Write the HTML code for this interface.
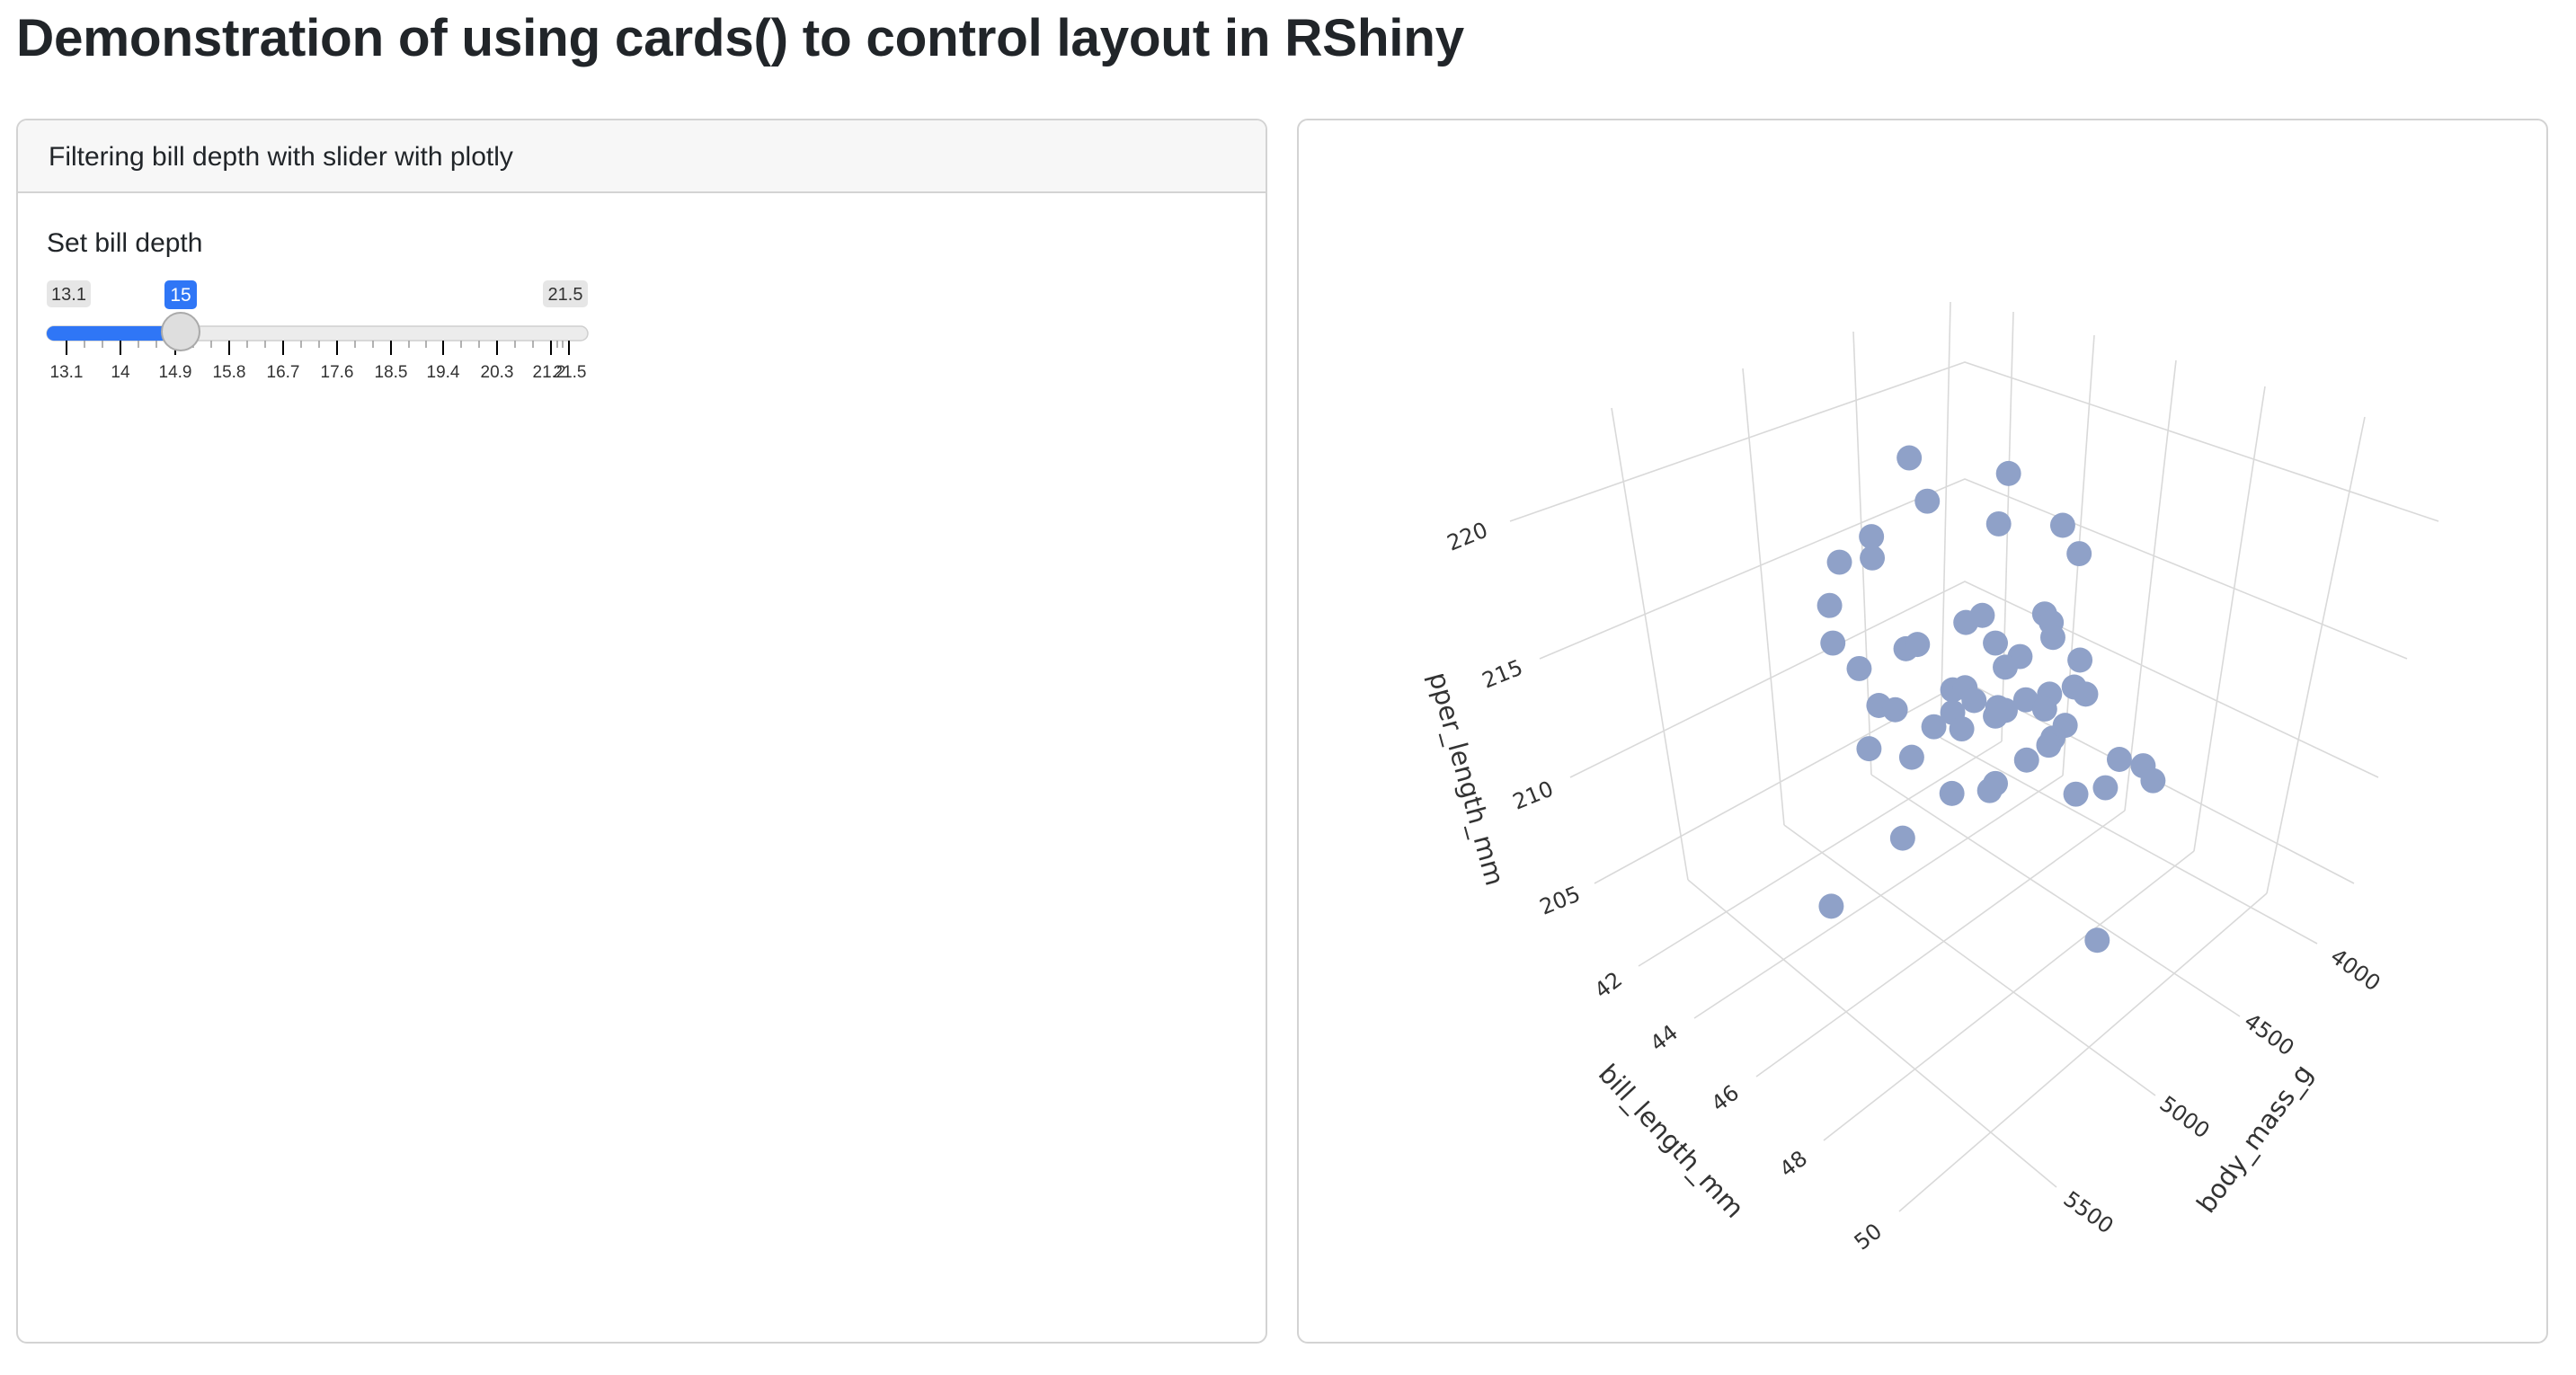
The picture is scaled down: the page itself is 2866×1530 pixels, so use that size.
<!DOCTYPE html>
<html><head><meta charset="utf-8"><style>
html,body{margin:0;padding:0;background:#fff;}
body{width:2866px;height:1530px;position:relative;overflow:hidden;font-family:"Liberation Sans",sans-serif;color:#212529;}
.title{position:absolute;left:18px;top:9px;font-size:58.5px;font-weight:bold;white-space:nowrap;letter-spacing:-0.3px;}
.card{position:absolute;top:132px;height:1363px;border:2px solid #d3d3d3;border-radius:12px;box-sizing:border-box;}
.hdr{height:81px;background:#f7f7f7;border-bottom:2px solid #d3d3d3;border-radius:10px 10px 0 0;box-sizing:border-box;font-size:30px;line-height:81px;padding-left:34px;}
.lbl{position:absolute;left:34px;top:254px;font-size:30px;}
</style></head><body>
<div class="title">Demonstration of using cards() to control layout in RShiny</div>
<div class="card" style="left:18px;width:1392px;">
 <div class="hdr">Filtering bill depth with slider with plotly</div>
</div>
<div class="lbl" style="left:52px;">Set bill depth</div>
<svg style="position:absolute;left:0;top:0" width="1420" height="440">
 <rect x="52" y="312" width="49" height="30" rx="5" fill="#e6e6e6"/>
 <text x="76.5" y="334" font-size="20" text-anchor="middle" fill="#333" font-family="Liberation Sans">13.1</text>
 <rect x="604" y="312" width="50" height="30" rx="5" fill="#e6e6e6"/>
 <text x="629" y="334" font-size="20" text-anchor="middle" fill="#333" font-family="Liberation Sans">21.5</text>
 <rect x="183" y="312" width="36" height="32" rx="5" fill="#2f76f6"/>
 <text x="201" y="335" font-size="21" text-anchor="middle" fill="#fff" font-family="Liberation Sans">15</text>
 <rect x="52" y="363" width="602" height="16" rx="8" fill="#ececec" stroke="#cfcfcf" stroke-width="1.5"/>
 <rect x="52" y="363" width="150" height="16" rx="8" fill="#2f76f6"/>
 <g stroke="#000" stroke-width="2">
  <line x1="74" y1="379" x2="74" y2="395"/><line x1="134" y1="379" x2="134" y2="395"/><line x1="195" y1="379" x2="195" y2="395"/><line x1="255" y1="379" x2="255" y2="395"/><line x1="315" y1="379" x2="315" y2="395"/><line x1="375" y1="379" x2="375" y2="395"/><line x1="435" y1="379" x2="435" y2="395"/><line x1="493" y1="379" x2="493" y2="395"/><line x1="553" y1="379" x2="553" y2="395"/><line x1="613" y1="379" x2="613" y2="395"/><line x1="633" y1="379" x2="633" y2="395"/>
 </g>
 <g stroke="#999" stroke-width="1.5">
  <line x1="94" y1="379" x2="94" y2="387"/><line x1="114" y1="379" x2="114" y2="387"/><line x1="154" y1="379" x2="154" y2="387"/><line x1="174" y1="379" x2="174" y2="387"/><line x1="215" y1="379" x2="215" y2="387"/><line x1="235" y1="379" x2="235" y2="387"/><line x1="275" y1="379" x2="275" y2="387"/><line x1="295" y1="379" x2="295" y2="387"/><line x1="335" y1="379" x2="335" y2="387"/><line x1="355" y1="379" x2="355" y2="387"/><line x1="395" y1="379" x2="395" y2="387"/><line x1="415" y1="379" x2="415" y2="387"/><line x1="455" y1="379" x2="455" y2="387"/><line x1="474" y1="379" x2="474" y2="387"/><line x1="513" y1="379" x2="513" y2="387"/><line x1="533" y1="379" x2="533" y2="387"/><line x1="573" y1="379" x2="573" y2="387"/><line x1="593" y1="379" x2="593" y2="387"/><line x1="620" y1="379" x2="620" y2="387"/><line x1="626" y1="379" x2="626" y2="387"/>
 </g>
 <g font-size="19" text-anchor="middle" fill="#333" font-family="Liberation Sans">
  <text x="74" y="420">13.1</text><text x="134" y="420">14</text><text x="195" y="420">14.9</text><text x="255" y="420">15.8</text><text x="315" y="420">16.7</text><text x="375" y="420">17.6</text><text x="435" y="420">18.5</text><text x="493" y="420">19.4</text><text x="553" y="420">20.3</text><text x="611" y="420">21.2</text><text x="634" y="420">21.5</text>
 </g>
 <ellipse cx="201" cy="369" rx="21" ry="21" fill="#dedede" stroke="#aaa" stroke-width="2"/>
</svg>
<div class="card" style="left:1443px;width:1392px;"></div>
<svg style="position:absolute;left:0;top:0" width="2866" height="1530">
 <defs><clipPath id="fc"><rect x="1500" y="750" width="300" height="400"/></clipPath></defs>
 <g stroke="#d9d9d9" stroke-width="1.6" fill="none">
  <line x1="1793" y1="454" x2="1878" y2="979"/><line x1="1939" y1="410" x2="1985" y2="918"/><line x1="2062" y1="369" x2="2082" y2="862"/><line x1="2170" y1="336" x2="2159" y2="821"/>
  <line x1="2240" y1="347" x2="2227" y2="825"/><line x1="2330" y1="373" x2="2295" y2="863"/><line x1="2421" y1="401" x2="2364" y2="902"/><line x1="2520" y1="430" x2="2441" y2="947"/><line x1="2631" y1="464" x2="2522" y2="994"/>
  <polyline points="1680,580 2186,403 2713,580"/><polyline points="1713,733 2186,533 2678,733"/><polyline points="1747,865 2186,647 2646,865"/><polyline points="1774,983 2186,758 2619,983"/>
  <line x1="1823" y1="1075" x2="2227" y2="825"/><line x1="1885" y1="1133" x2="2295" y2="863"/><line x1="1954" y1="1198" x2="2364" y2="902"/><line x1="2029" y1="1269" x2="2441" y2="947"/><line x1="2113" y1="1348" x2="2522" y2="994"/>
  <line x1="1878" y1="979" x2="2288" y2="1321"/><line x1="1985" y1="918" x2="2398" y2="1219"/><line x1="2082" y1="862" x2="2492" y2="1131"/><line x1="2159" y1="821" x2="2578" y2="1050"/>
 </g>
 <g transform="translate(1442,298) scale(0.9132,0.7893)" fill="#8fa1c8">
  <ellipse cx="747" cy="268" rx="15.3" ry="17.7"/><ellipse cx="868" cy="290" rx="15.3" ry="17.7"/><ellipse cx="769" cy="329" rx="15.3" ry="17.7"/><ellipse cx="856" cy="361" rx="15.3" ry="17.7"/><ellipse cx="934" cy="363" rx="15.3" ry="17.7"/><ellipse cx="701" cy="379" rx="15.3" ry="17.7"/><ellipse cx="954" cy="403" rx="15.3" ry="17.7"/><ellipse cx="662" cy="415" rx="15.3" ry="17.7"/><ellipse cx="702" cy="409" rx="15.3" ry="17.7"/><ellipse cx="650" cy="476" rx="15.3" ry="17.7"/><ellipse cx="912" cy="488" rx="15.3" ry="17.7"/><ellipse cx="816" cy="500" rx="15.3" ry="17.7"/><ellipse cx="836" cy="490" rx="15.3" ry="17.7"/><ellipse cx="920" cy="500" rx="15.3" ry="17.7"/><ellipse cx="922" cy="521" rx="15.3" ry="17.7"/><ellipse cx="654" cy="529" rx="15.3" ry="17.7"/><ellipse cx="743" cy="537" rx="15.3" ry="17.7"/><ellipse cx="757" cy="531" rx="15.3" ry="17.7"/><ellipse cx="852" cy="529" rx="15.3" ry="17.7"/><ellipse cx="882" cy="548" rx="15.3" ry="17.7"/><ellipse cx="864" cy="563" rx="15.3" ry="17.7"/><ellipse cx="686" cy="565" rx="15.3" ry="17.7"/><ellipse cx="955" cy="553" rx="15.3" ry="17.7"/><ellipse cx="948" cy="591" rx="15.3" ry="17.7"/><ellipse cx="962" cy="601" rx="15.3" ry="17.7"/><ellipse cx="800" cy="595" rx="15.3" ry="17.7"/><ellipse cx="815" cy="592" rx="15.3" ry="17.7"/><ellipse cx="826" cy="610" rx="15.3" ry="17.7"/><ellipse cx="710" cy="617" rx="15.3" ry="17.7"/><ellipse cx="730" cy="623" rx="15.3" ry="17.7"/><ellipse cx="889" cy="609" rx="15.3" ry="17.7"/><ellipse cx="918" cy="601" rx="15.3" ry="17.7"/><ellipse cx="855" cy="620" rx="15.3" ry="17.7"/><ellipse cx="864" cy="624" rx="15.3" ry="17.7"/><ellipse cx="852" cy="632" rx="15.3" ry="17.7"/><ellipse cx="912" cy="622" rx="15.3" ry="17.7"/><ellipse cx="800" cy="627" rx="15.3" ry="17.7"/><ellipse cx="777" cy="647" rx="15.3" ry="17.7"/><ellipse cx="811" cy="650" rx="15.3" ry="17.7"/><ellipse cx="937" cy="645" rx="15.3" ry="17.7"/><ellipse cx="922" cy="663" rx="15.3" ry="17.7"/><ellipse cx="917" cy="673" rx="15.3" ry="17.7"/><ellipse cx="698" cy="678" rx="15.3" ry="17.7"/><ellipse cx="750" cy="690" rx="15.3" ry="17.7"/><ellipse cx="890" cy="694" rx="15.3" ry="17.7"/><ellipse cx="1003" cy="693" rx="15.3" ry="17.7"/><ellipse cx="1032" cy="702" rx="15.3" ry="17.7"/><ellipse cx="1044" cy="723" rx="15.3" ry="17.7"/><ellipse cx="986" cy="733" rx="15.3" ry="17.7"/><ellipse cx="950" cy="742" rx="15.3" ry="17.7"/><ellipse cx="852" cy="727" rx="15.3" ry="17.7"/><ellipse cx="845" cy="737" rx="15.3" ry="17.7"/><ellipse cx="799" cy="741" rx="15.3" ry="17.7"/><ellipse cx="739" cy="804" rx="15.3" ry="17.7"/><ellipse cx="652" cy="900" rx="15.3" ry="17.7"/><ellipse cx="976" cy="948" rx="15.3" ry="17.7"/>
 </g>
 <g font-family="DejaVu Sans, sans-serif" font-size="24" fill="#333" text-anchor="middle" dominant-baseline="middle">
  <text transform="translate(1633,598) rotate(-22)">220</text>
  <text transform="translate(1672,751) rotate(-22)">215</text>
  <text transform="translate(1706,886) rotate(-22)">210</text>
  <text transform="translate(1736,1003) rotate(-22)">205</text>
  <text transform="translate(1790,1097) rotate(-38)">42</text>
  <text transform="translate(1852,1156) rotate(-38)">44</text>
  <text transform="translate(1920,1223) rotate(-38)">46</text>
  <text transform="translate(1996,1296) rotate(-38)">48</text>
  <text transform="translate(2079,1377) rotate(-38)">50</text>
  <text transform="translate(2620,1080) rotate(36)">4000</text>
  <text transform="translate(2524,1152) rotate(36)">4500</text>
  <text transform="translate(2430,1244) rotate(36)">5000</text>
  <text transform="translate(2323,1350) rotate(36)">5500</text>
  <text font-size="29" transform="translate(1858,1271) rotate(47)">bill_length_mm</text>
  <text font-size="29" transform="translate(2510,1268) rotate(-54)">body_mass_g</text>
 </g>
 <g clip-path="url(#fc)">
  <text font-family="DejaVu Sans, sans-serif" font-size="29" fill="#333" text-anchor="end" dominant-baseline="middle" transform="translate(1662,985) rotate(74.7)">flipper_length_mm</text>
 </g>
</svg>
</body></html>
